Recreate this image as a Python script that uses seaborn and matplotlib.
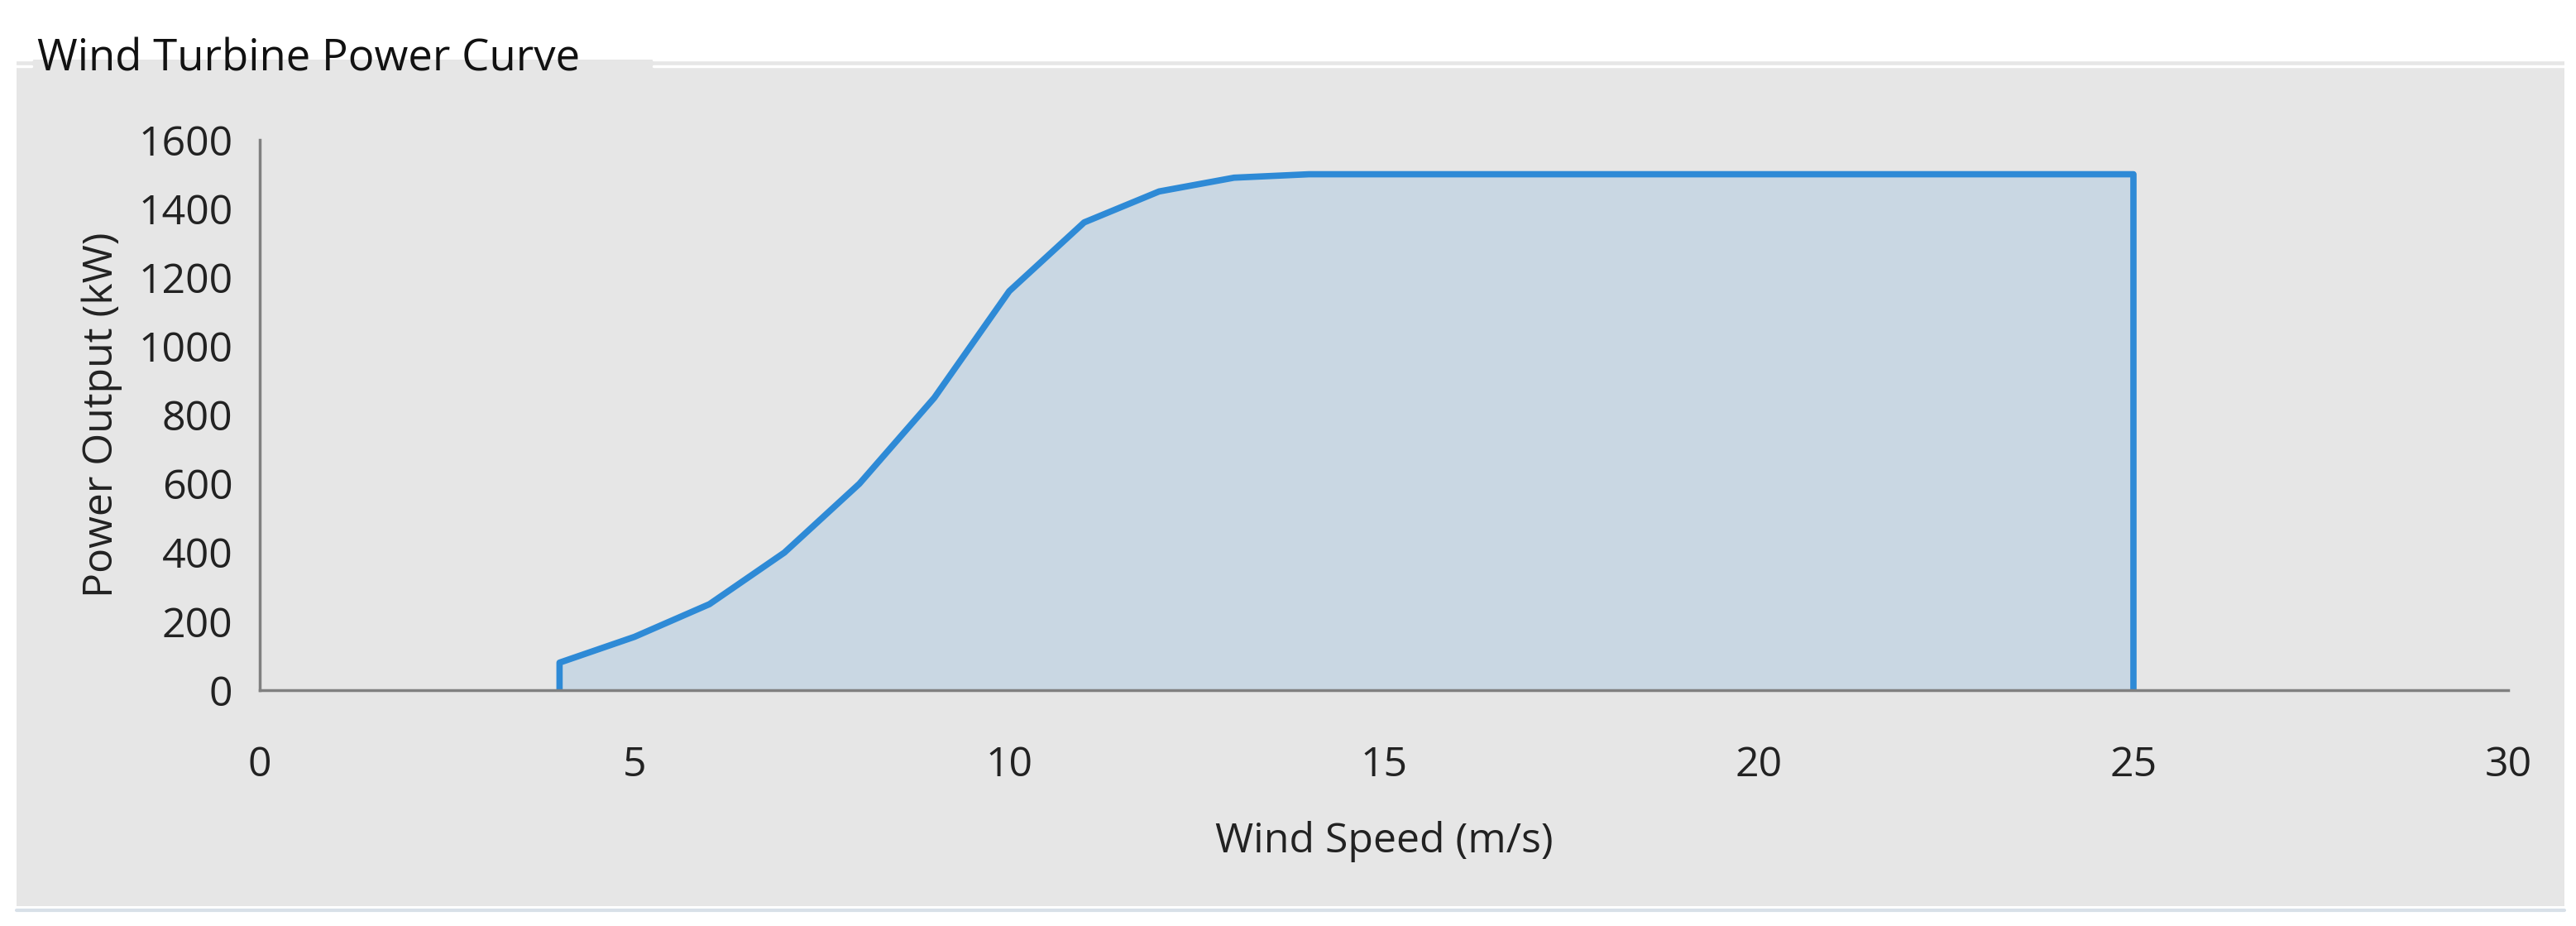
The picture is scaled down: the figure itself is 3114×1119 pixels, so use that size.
import matplotlib
matplotlib.use("Agg")
import matplotlib.pyplot as plt
import seaborn as sns
import pandas as pd
from matplotlib.patches import Rectangle
from matplotlib.lines import Line2D

# Power curve
wind_speed = [4, 4, 5, 6, 7, 8, 9, 10, 11, 12, 13, 14, 15, 20, 25, 25]
power_kw = [0, 80, 155, 250, 400, 600, 850, 1160, 1360, 1450, 1490, 1500, 1500, 1500, 1500, 0]
x_ticks = [0, 5, 10, 15, 20, 25, 30]
y_ticks = [0, 200, 400, 600, 800, 1000, 1200, 1400, 1600]

df = pd.DataFrame({"speed": wind_speed, "power": power_kw})

sns.set_style("white")
plt.rcParams["font.family"] = ["Open Sans", "DejaVu Sans"]

W, H = 3114, 1119
fig = plt.figure(figsize=(W / 100, H / 100), dpi=100, facecolor="white")

# group box panel
fig.patches.append(Rectangle((20 / W, 1 - 1095 / H), 3080 / W, (1095 - 72) / H,
                             transform=fig.transFigure, facecolor="#e6e6e6",
                             edgecolor="none", zorder=-10))
for yy in (72, 80):
    fig.lines.append(Line2D([790 / W, 3100 / W], [1 - yy / H] * 2, transform=fig.transFigure,
                            color="white", lw=2.5, zorder=-5))
    fig.lines.append(Line2D([20 / W, 38 / W], [1 - yy / H] * 2, transform=fig.transFigure,
                            color="white", lw=2.5, zorder=-5))
fig.lines.append(Line2D([20 / W, 3100 / W], [1 - 1100 / H] * 2, transform=fig.transFigure,
                        color="#d8e0e8", lw=3, zorder=-5))
fig.text(45 / W, 1 - 72 / H, "Wind Turbine Power Curve", fontsize=38, va="center",
         ha="left", color="#111111")

ax = fig.add_axes([314 / W, 1 - 834 / H, (3032 - 314) / W, (834 - 169) / H])
ax.set_zorder(5)
ax.set_facecolor("none")
ax.fill_between(df["speed"], df["power"], color="#c9d7e3", zorder=1)
sns.lineplot(data=df, x="speed", y="power", ax=ax, color="#2e8ad6", lw=5.5,
             sort=False, estimator=None, zorder=2)

ax.set_xlim(0, 30)
ax.set_ylim(0, 1600)
ax.set_xticks(x_ticks)
ax.set_yticks(y_ticks)
for side in ("top", "right"):
    ax.spines[side].set_visible(False)
for side in ("left", "bottom"):
    ax.spines[side].set_color("#808080")
    ax.spines[side].set_linewidth(2.5)
    ax.spines[side].set_zorder(3)
ax.tick_params(axis="both", direction="out", length=20, width=2.5, color="#808080",
               labelsize=36, labelcolor="#222222")
ax.tick_params(axis="x", pad=28)
ax.set_xlabel("Wind Speed (m/s)", fontsize=36, color="#222222", labelpad=30)
ax.set_ylabel("Power Output (kW)", fontsize=36, color="#222222", labelpad=14)

fig.savefig("out.png", dpi=100, facecolor="white")
